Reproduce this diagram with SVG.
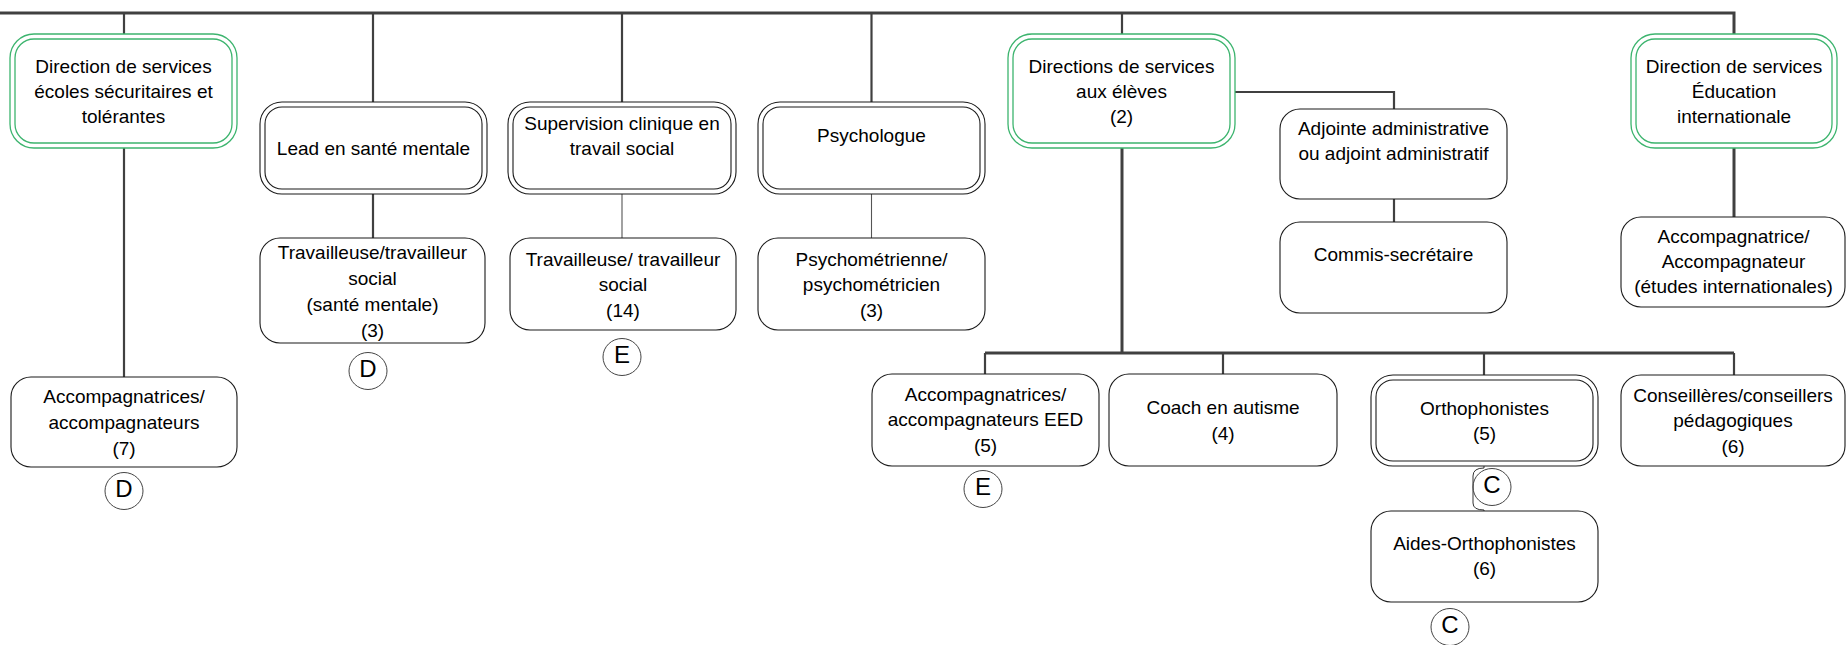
<svg xmlns="http://www.w3.org/2000/svg" width="1846" height="645" viewBox="0 0 1846 645">
<style>
text{font-family:"Liberation Sans",Arial,sans-serif;font-size:19px;fill:#000;text-anchor:middle}
.g{fill:#fff;stroke:#3cb46e;stroke-width:1.3}
.gi{fill:none;stroke:#3cb46e;stroke-width:1.3}
.b{fill:#fff;stroke:#1a1a1a;stroke-width:1.1}
.bi{fill:none;stroke:#1a1a1a;stroke-width:1.1}
.c{fill:none;stroke:#404040}
.w3{stroke-width:3}
.w2{stroke-width:2.2}
.w1{stroke-width:1.1;stroke:#555}
.circ{fill:none;stroke:#444;stroke-width:1}
.l{font-size:24px}
</style>
<rect width="1846" height="645" fill="#fff"/>
<g id="connectors">
<path class="c w3" d="M0,13 H1734 V34"/>
<path class="c w2" d="M124,13 V34"/>
<path class="c w2" d="M373,13 V102"/>
<path class="c w2" d="M622,13 V102"/>
<path class="c w2" d="M871.5,13 V102"/>
<path class="c w2" d="M1122,13 V34"/>
<path class="c w2" d="M124,148 V377"/>
<path class="c w2" d="M373,194 V238"/>
<path class="c w1" d="M622,194 V238"/>
<path class="c w1" d="M871.5,194 V238"/>
<path class="c w3" d="M1122,148 V353"/>
<path class="c w3" d="M985,353 H1734"/>
<path class="c w2" d="M985,353 V374"/>
<path class="c w2" d="M1223,353 V374"/>
<path class="c w2" d="M1484,353 V375"/>
<path class="c w2" d="M1734,353 V375"/>
<path class="c w2" d="M1235,92 H1394 V109"/>
<path class="c w2" d="M1394,199 V222"/>
<path class="c w3" d="M1734,148 V217"/>
<path fill="none" stroke="#333" stroke-width="1" d="M1484,466 V468 Q1473,468 1473,476 V503 Q1473,510 1484,510 V511"/>
</g>
<g id="n-ecoles">
<rect class="g" x="10" y="34" width="227" height="114" rx="24"/>
<rect class="gi" x="15" y="39" width="217" height="104" rx="19"/>
<text x="123.5" y="73">Direction de services</text>
<text x="123.5" y="98">écoles sécuritaires et</text>
<text x="123.5" y="123">tolérantes</text>
</g>
<g id="n-lead">
<rect class="b" x="260" y="102" width="227" height="92" rx="22"/>
<rect class="bi" x="265" y="107" width="217" height="82" rx="17"/>
<text x="373.5" y="155">Lead en santé mentale</text>
</g>
<g id="n-supervision">
<rect class="b" x="508" y="102" width="228" height="92" rx="22"/>
<rect class="bi" x="513" y="107" width="218" height="82" rx="17"/>
<text x="622" y="130">Supervision clinique en</text>
<text x="622" y="155">travail social</text>
</g>
<g id="n-psychologue">
<rect class="b" x="758" y="102" width="227" height="92" rx="22"/>
<rect class="bi" x="763" y="107" width="217" height="82" rx="17"/>
<text x="871.5" y="142">Psychologue</text>
</g>
<g id="n-directions">
<rect class="g" x="1008" y="34" width="227" height="114" rx="24"/>
<rect class="gi" x="1013" y="39" width="217" height="104" rx="19"/>
<text x="1121.5" y="73">Directions de services</text>
<text x="1121.5" y="98">aux élèves</text>
<text x="1121.5" y="123">(2)</text>
</g>
<g id="n-adjointe">
<rect class="b" x="1280" y="109" width="227" height="90" rx="20"/>
<text x="1393.5" y="135">Adjointe administrative</text>
<text x="1393.5" y="160">ou adjoint administratif</text>
</g>
<g id="n-commis">
<rect class="b" x="1280" y="222" width="227" height="91" rx="20"/>
<text x="1393.5" y="261">Commis-secrétaire</text>
</g>
<g id="n-education">
<rect class="g" x="1631" y="34" width="206" height="114" rx="24"/>
<rect class="gi" x="1636" y="39" width="196" height="104" rx="19"/>
<text x="1734" y="73">Direction de services</text>
<text x="1734" y="98">Éducation</text>
<text x="1734" y="123">internationale</text>
</g>
<g id="n-accomp-intl">
<rect class="b" x="1621" y="217" width="224" height="90" rx="20"/>
<text x="1733.5" y="243">Accompagnatrice/</text>
<text x="1733.5" y="268">Accompagnateur</text>
<text x="1733.5" y="293">(études internationales)</text>
</g>
<g id="n-ts-sante">
<rect class="b" x="260" y="238" width="225" height="105" rx="20"/>
<text x="372.5" y="259">Travailleuse/travailleur</text>
<text x="372.5" y="285">social</text>
<text x="372.5" y="311">(santé mentale)</text>
<text x="372.5" y="337">(3)</text>
</g>
<g id="n-ts">
<rect class="b" x="510" y="238" width="226" height="92" rx="20"/>
<text x="623" y="266">Travailleuse/ travailleur</text>
<text x="623" y="291">social</text>
<text x="623" y="317">(14)</text>
</g>
<g id="n-psychometrie">
<rect class="b" x="758" y="238" width="227" height="92" rx="20"/>
<text x="871.5" y="266">Psychométrienne/</text>
<text x="871.5" y="291">psychométricien</text>
<text x="871.5" y="317">(3)</text>
</g>
<g id="n-accomp">
<rect class="b" x="11" y="377" width="226" height="90" rx="20"/>
<text x="124" y="403">Accompagnatrices/</text>
<text x="124" y="429">accompagnateurs</text>
<text x="124" y="455">(7)</text>
</g>
<g id="n-eed">
<rect class="b" x="872" y="374" width="227" height="92" rx="20"/>
<text x="985.5" y="401">Accompagnatrices/</text>
<text x="985.5" y="426">accompagnateurs EED</text>
<text x="985.5" y="452">(5)</text>
</g>
<g id="n-coach">
<rect class="b" x="1109" y="374" width="228" height="92" rx="20"/>
<text x="1223" y="414">Coach en autisme</text>
<text x="1223" y="440">(4)</text>
</g>
<g id="n-ortho">
<rect class="b" x="1371" y="375" width="227" height="91" rx="22"/>
<rect class="bi" x="1376" y="380" width="217" height="81" rx="17"/>
<text x="1484.5" y="415">Orthophonistes</text>
<text x="1484.5" y="440">(5)</text>
</g>
<g id="n-conseil">
<rect class="b" x="1621" y="375" width="224" height="91" rx="20"/>
<text x="1733" y="402">Conseillères/conseillers</text>
<text x="1733" y="427">pédagogiques</text>
<text x="1733" y="453">(6)</text>
</g>
<g id="n-aides">
<rect class="b" x="1371" y="511" width="227" height="91" rx="20"/>
<text x="1484.5" y="550">Aides-Orthophonistes</text>
<text x="1484.5" y="575">(6)</text>
</g>
<g id="tags">
<ellipse class="circ" cx="368" cy="371" rx="19" ry="18.5"/><text class="l" x="368" y="377">D</text>
<ellipse class="circ" cx="622" cy="357" rx="19" ry="18.5"/><text class="l" x="622" y="363">E</text>
<ellipse class="circ" cx="124" cy="491" rx="19" ry="18.5"/><text class="l" x="124" y="497">D</text>
<ellipse class="circ" cx="983" cy="489" rx="19" ry="18.5"/><text class="l" x="983" y="495">E</text>
<ellipse class="circ" cx="1492" cy="487" rx="19" ry="18.5"/><text class="l" x="1492" y="493">C</text>
<ellipse class="circ" cx="1450" cy="627" rx="19" ry="18.5"/><text class="l" x="1450" y="633">C</text>
</g>
</svg>
